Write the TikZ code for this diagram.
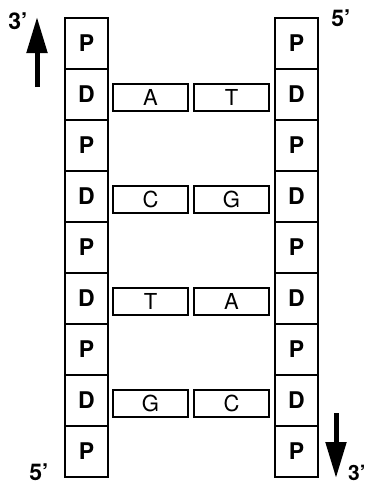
\documentclass[tikz,border=0pt]{standalone}
\usepackage{fontspec}
\setmainfont{TeX Gyre Heros}
\usetikzlibrary{arrows.meta,positioning}

\begin{document}
\begin{tikzpicture}[x=1pt, y=-1pt,
  cell/.style={rectangle, draw, line width=1.5pt,
               minimum width=43pt, minimum height=51pt, inner sep=0pt,
               font=\fontsize{23}{23}\selectfont\bfseries},
  base/.style={rectangle, draw, line width=1.5pt,
               minimum width=75pt, minimum height=27pt, inner sep=0pt,
               font=\fontsize{22}{22}\selectfont},
  strand/.style={-{Triangle[length=36pt,width=20pt]}, line width=5pt},
  end_label/.style={font=\fontsize{23}{23}\selectfont\bfseries}
]

\useasboundingbox (0,0) rectangle (367,485);

% Column x-positions
\def\xL{86.5}
\def\xR{296.5}

% Backbone columns (phosphate / sugar)
\foreach \i/\s in {1/P,2/D,3/P,4/D,5/P,6/D,7/P,8/D,9/P}{
  \pgfmathsetmacro{\yy}{18+(\i-0.5)*51}
  \node[cell] (L\i) at (\xL,\yy) {\s};
  \node[cell] (R\i) at (\xR,\yy) {\s};
}

% Base pairs on the D cells
\foreach \i/\a/\b in {2/A/T,4/C/G,6/T/A,8/G/C}{
  \node[base, right=3.5pt of L\i, yshift=-3pt] (BL\i) {\a};
  \node[base, left=4.5pt of R\i, yshift=-3pt] (BR\i) {\b};
}

% Strand directions
\coordinate (up_tail) at (37,87);
\coordinate (up_tip) at (37,17);
\draw[strand] (up_tail) -- (up_tip);
\coordinate (down_tail) at (336,413);
\coordinate (down_tip) at (336,478);
\draw[strand] (down_tail) -- (down_tip);

% End labels
\node[end_label] (top_left) at (18,21) {3'};
\node[end_label] (top_right) at (341,18) {5'};
\node[end_label] (bot_left) at (39,472) {5'};
\node[end_label, font=\fontsize{21}{21}\selectfont\bfseries] (bot_right) at (357,473) {3'};

\end{tikzpicture}
\end{document}
